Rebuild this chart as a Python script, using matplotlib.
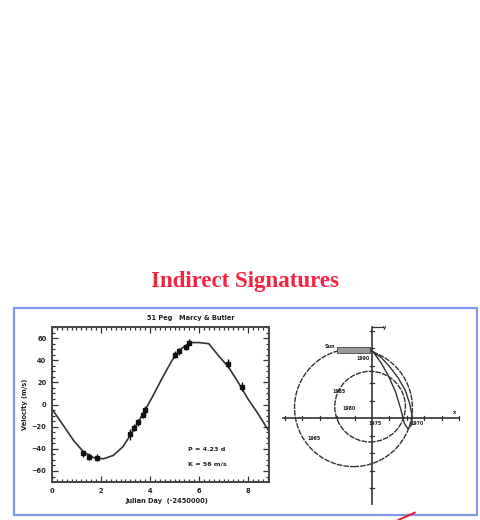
import matplotlib
matplotlib.use('Agg')
import matplotlib.pyplot as plt
from matplotlib.patches import Rectangle, Circle
from matplotlib.ticker import AutoMinorLocator

# -----------------------------------------------------------------------------
# radial velocity curve
fit_day = [0, 0.5, 0.9, 1.3, 1.7, 2.1, 2.5, 2.9, 3.3, 3.7, 4.1, 4.5, 4.9,
           5.3, 5.7, 6.0, 6.4, 6.8, 7.2, 7.6, 8.0, 8.4, 8.85]
fit_vel = [-4, -20, -33, -43, -48, -49, -46, -38, -24, -9, 7, 24, 40,
           51, 56, 56, 55, 44, 34, 20, 5, -8, -24]

obs_day = [1.25, 1.5, 1.85, 3.2, 3.35, 3.5, 3.7, 3.8, 5.0, 5.2, 5.45, 5.6,
           7.2, 7.75]
obs_vel = [-44, -47, -48, -27, -21, -16, -9, -5, 45, 48, 52, 56, 37, 16]
obs_err = [3, 3, 3, 5, 3, 3, 3, 4, 3, 3, 3, 3, 4, 4]

vel_ticks = [60, 40, 20, 0, -20, -40, -60]
day_ticks = [0, 2, 4, 6, 8]

# barycentre wobble diagram: circles (x, y, radius) and the thin loop
circ_x = [-1.06, -0.11]
circ_y = [0.60, 0.66]
circ_r = [3.37, 2.02]
loop_x = [0.0, 0.55, 1.05, 1.5, 1.9, 2.15, 2.3, 2.25, 2.05, 1.85, 1.65,
          1.35, 0.95, 0.5, 0.1, 0.0]
loop_y = [3.85, 3.45, 2.9, 2.3, 1.6, 0.85, 0.1, -0.4, -0.6, -0.3, 0.5,
          1.5, 2.4, 3.2, 3.75, 3.85]
year_lbl = ['1990', '1985', '1980', '1975', '1970', '1965']
year_x = [-0.5, -1.9, -1.3, 0.2, 2.6, -3.3]
year_y = [3.4, 1.5, 0.55, -0.3, -0.3, -1.15]

# -----------------------------------------------------------------------------

fig = plt.figure(figsize=(4.81, 5.20), dpi=100)
fig.patch.set_facecolor('white')

fig.text(0.509, 0.458, 'Indirect Signatures', color='#f7223f',
         fontsize=16.5, fontweight='bold', family='Liberation Serif',
         ha='center', va='center')

fig.patches.append(Rectangle((0.029, 0.0096), 0.9626, 0.398,
                             transform=fig.transFigure, fill=False,
                             edgecolor='#7b98ec', lw=1.6))

gray = '#222222'

# left panel ------------------------------------------------------------------
ax = fig.add_axes([0.108, 0.073, 0.451, 0.298])
ax.plot(fit_day, fit_vel, color='#333333', lw=1.2)
ax.errorbar(obs_day, obs_vel, yerr=obs_err, fmt='s', ms=2.8, color='#111111',
            elinewidth=1.0, capsize=0)
ax.set_xlim(0, 8.85)
ax.set_ylim(-70, 70)
ax.set_xticks(day_ticks)
ax.set_yticks(vel_ticks)
ax.xaxis.set_minor_locator(AutoMinorLocator(10))
ax.yaxis.set_minor_locator(AutoMinorLocator(4))
ax.tick_params(which='both', direction='in', top=True, right=True,
               color='#333333', width=0.9)
ax.tick_params(which='major', length=4, labelsize=4.8, pad=4,
               labelcolor=gray)
ax.tick_params(which='minor', length=2.3)
for lab in ax.get_xticklabels() + ax.get_yticklabels():
    lab.set_fontweight('bold')
for s in ax.spines.values():
    s.set_linewidth(1.4)
    s.set_color('#444444')

ax.text(0.53, -0.125, 'Julian Day  (-2450000)', transform=ax.transAxes,
        ha='center', va='center', fontsize=4.8, fontweight='bold', color=gray)
ax.text(-0.125, 0.5, 'Velocity (m/s)', transform=ax.transAxes, rotation=90,
        ha='center', va='center', fontsize=4.8, fontweight='bold', color=gray)
ax.text(3.88, 1.058, '51 Peg', transform=ax.get_xaxis_transform(),
        ha='left', va='center', fontsize=4.8, fontweight='bold', color=gray)
ax.text(5.2, 1.058, 'Marcy & Butler', transform=ax.get_xaxis_transform(),
        ha='left', va='center', fontsize=4.8, fontweight='bold', color=gray)
ax.text(5.55, -41, 'P = 4.23 d', ha='left', va='center', fontsize=4.6,
        fontweight='bold', color=gray)
ax.text(5.55, -54, 'K = 56 m/s', ha='left', va='center', fontsize=4.6,
        fontweight='bold', color=gray)

# right panel -----------------------------------------------------------------
bx = fig.add_axes([0.572, 0.019, 0.405, 0.365])
bx.set_xlim(-5.54, 5.6)
bx.set_ylim(-5.26, 5.6)
bx.axis('off')

bx.plot([-5.1, 5.0], [0, 0], color='#333333', lw=1.2)
bx.plot([0, 0], [-4.9, 5.2], color='#333333', lw=1.2)
for t in range(-5, 6):
    if t == 0:
        continue
    bx.plot([t, t], [-0.1, 0.1], color='#333333', lw=0.9)
    if t >= -4:
        bx.plot([-0.1, 0.1], [t, t], color='#333333', lw=0.9)
bx.plot([0, 0.6], [5.2, 5.2], color='#333333', lw=0.9)
bx.text(0.65, 5.2, 'y', fontsize=3.6, va='center', color=gray,
        fontweight='bold')
bx.text(4.6, 0.35, 'x', fontsize=3.6, va='center', color=gray,
        fontweight='bold')

for cx, cy, r in zip(circ_x, circ_y, circ_r):
    bx.add_patch(Circle((cx, cy), r, fill=False, edgecolor='#333333',
                        lw=1.0, ls=(0, (4, 0.8))))
bx.plot(loop_x, loop_y, color='#333333', lw=1.0)

# sun disk marker
bx.add_patch(Rectangle((-2.0, 3.75), 1.9, 0.3, facecolor='#999999',
                       edgecolor='#444444', lw=0.6))
bx.text(-2.1, 4.1, 'Sun', fontsize=3.6, ha='right', va='center',
        color=gray, fontweight='bold')

for lbl, x, y in zip(year_lbl, year_x, year_y):
    bx.text(x, y, lbl, fontsize=3.4, ha='center', va='center', color=gray,
            fontweight='bold')

# small red stroke at the bottom edge
fig.lines.append(plt.Line2D([0.828, 0.862], [0.0, 0.014],
                            transform=fig.transFigure, color='#e8203a',
                            lw=1.5))

fig.savefig('out.png', dpi=100)
